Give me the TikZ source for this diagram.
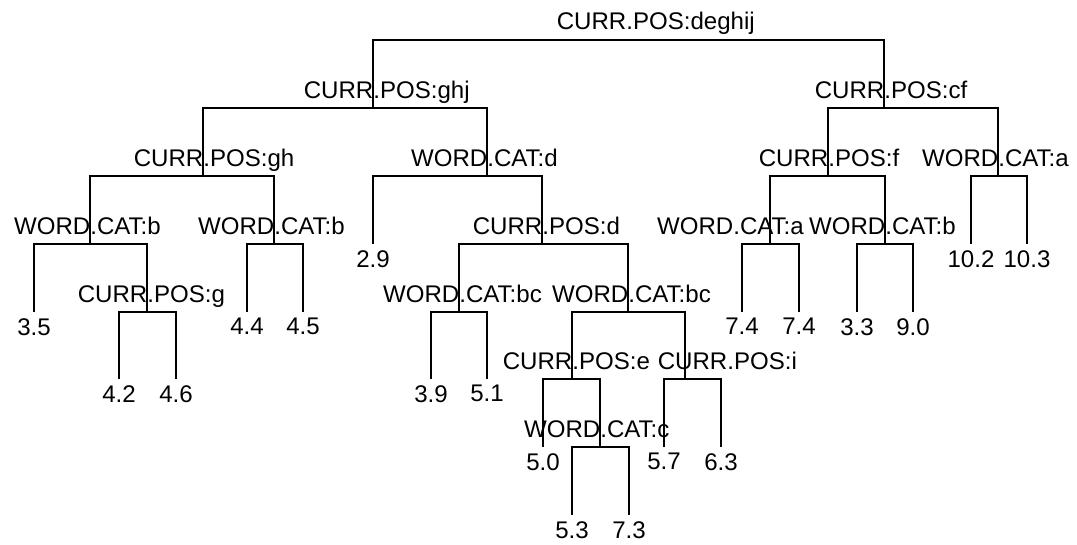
\documentclass[tikz,border=0pt]{standalone}
\usepackage{fontspec}
\setmainfont{Liberation Sans}
\usetikzlibrary{calc}
\newcommand\treefont{\fontsize{13.7}{16}\selectfont}
\tikzset{
  split/.style={anchor=base west, inner sep=0pt, font=\treefont},
  leaflab/.style={anchor=north, inner sep=0pt, font=\treefont},
  branch/.style={line width=0.7pt},
}
\begin{document}
\begin{tikzpicture}[x=0.02cm,y=-0.02cm]
  \useasboundingbox (0,0) rectangle (1077,544);
  % split points and leaf ends, one row per depth
  \coordinate (root) at (626,40);
  \coordinate (ghj) at (373,108);  \coordinate (cf) at (884,108);
  \coordinate (gh) at (203,176);   \coordinate (wcd) at (487,176);
  \coordinate (f) at (828,176);    \coordinate (wcaR) at (998,176);
  \coordinate (wcbL) at (90,244);  \coordinate (wcbR) at (274,244);
  \coordinate (l29) at (373,244);  \coordinate (d) at (542,244);
  \coordinate (wcaL) at (770,244); \coordinate (wcbf) at (885,244);
  \coordinate (l102) at (971,244); \coordinate (l103) at (1027,244);
  \coordinate (l35) at (34,312);   \coordinate (g) at (147,312);
  \coordinate (l44) at (247,312);  \coordinate (l45) at (303,312);
  \coordinate (wcbcL) at (459,312); \coordinate (wcbcR) at (628,312);
  \coordinate (l74a) at (742,312); \coordinate (l74b) at (799,312);
  \coordinate (l33) at (857,312);  \coordinate (l90) at (913,312);
  \coordinate (l42) at (119,379);  \coordinate (l46) at (176,379);
  \coordinate (l39) at (431,379);  \coordinate (l51) at (487,379);
  \coordinate (e) at (572,379);    \coordinate (i) at (685,379);
  \coordinate (l50) at (543,447);  \coordinate (c) at (600,447);
  \coordinate (l57) at (664,447);  \coordinate (l63) at (721,447);
  \coordinate (l53) at (572,515);  \coordinate (l73) at (629,515);
  % branches
  \foreach \p/\q in {root/ghj, root/cf, ghj/gh, ghj/wcd, gh/wcbL, gh/wcbR,
      wcbL/l35, wcbL/g, g/l42, g/l46, wcbR/l44, wcbR/l45, wcd/l29, wcd/d,
      d/wcbcL, d/wcbcR, wcbcL/l39, wcbcL/l51, wcbcR/e, wcbcR/i, e/l50, e/c,
      c/l53, c/l73, i/l57, i/l63, cf/f, cf/wcaR, f/wcaL, f/wcbf,
      wcaL/l74a, wcaL/l74b, wcbf/l33, wcbf/l90, wcaR/l102, wcaR/l103}
    \draw[branch] (\p) -| (\q);
  % split labels
  \foreach \n/\dx/\pre/\post in {root/0/CURR/POS:deghij, ghj/0/CURR/POS:ghj,
      cf/0/CURR/POS:cf, gh/0/CURR/POS:gh, wcd/0/WORD/CAT:d, f/0/CURR/POS:f,
      wcaR/0/WORD/CAT:a, wcbL/0/WORD/CAT:b, wcbR/0/WORD/CAT:b, d/0/CURR/POS:d,
      wcaL/-37/WORD/CAT:a, wcbf/0/WORD/CAT:b, g/0/CURR/POS:g,
      wcbcL/0/WORD/CAT:bc, wcbcR/0/WORD/CAT:bc, e/0/CURR/POS:e,
      i/42/CURR/POS:i, c/0/WORD/CAT:c}
    \node[split] at ($(\n)+(\dx,-10)$) {\llap{\pre}.\post};
  % leaf values
  \foreach \n/\txt in {l35/3.5, l42/4.2, l46/4.6, l44/4.4, l45/4.5, l29/2.9,
      l39/3.9, l51/5.1, l50/5.0, l53/5.3, l73/7.3, l57/5.7, l63/6.3,
      l74a/7.4, l74b/7.4, l33/3.3, l90/9.0, l102/10.2, l103/10.3}
    \node[leaflab] at ($(\n)+(0,6)$) {\txt};
\end{tikzpicture}
\end{document}
